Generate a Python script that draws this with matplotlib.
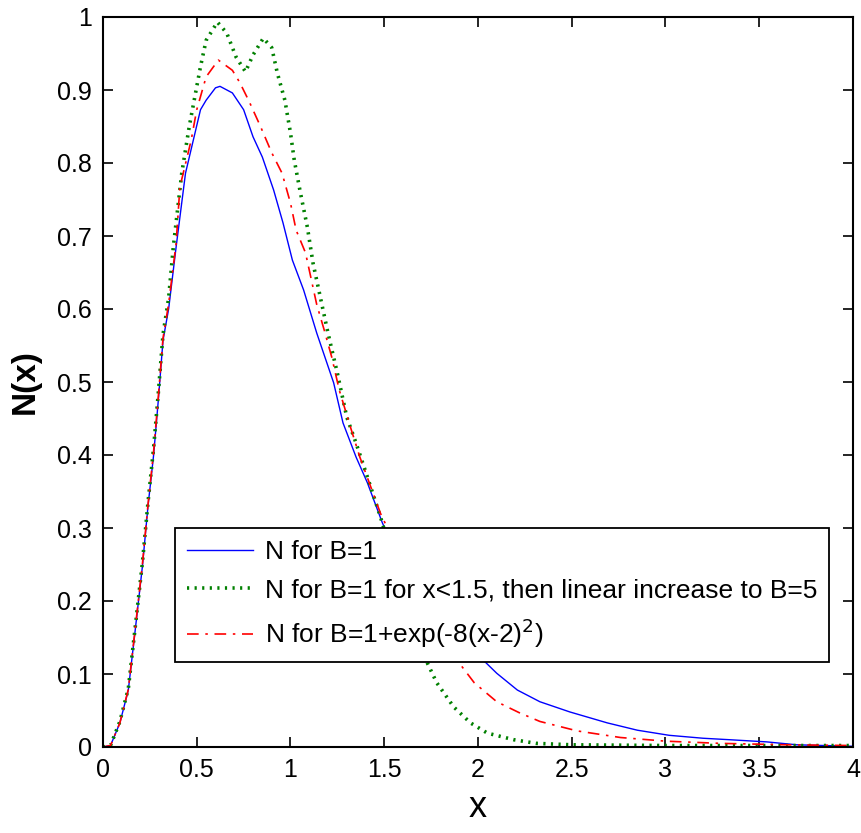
import matplotlib
matplotlib.use("Agg")
import matplotlib.pyplot as plt

plt.rcParams['font.family'] = ['Liberation Sans', 'DejaVu Sans']

# ---- data ----
x_blue = [0, 0.04, 0.09, 0.135, 0.17, 0.21, 0.24, 0.27, 0.295, 0.32, 0.35, 0.39, 0.44, 0.52, 0.55,
          0.60, 0.624, 0.69, 0.75, 0.80, 0.85, 0.91, 0.96, 1.01, 1.07, 1.14, 1.23, 1.28, 1.35, 1.41,
          1.49, 1.6, 1.7, 1.8, 1.9, 2.04, 2.10, 2.21, 2.33, 2.49, 2.69, 2.85, 3.02, 3.2, 3.34, 3.54,
          3.7, 4.0]
y_blue = [0, 0.002, 0.033, 0.078, 0.156, 0.247, 0.33, 0.40, 0.475, 0.557, 0.60, 0.685, 0.786, 0.873,
          0.886, 0.903, 0.905, 0.896, 0.873, 0.836, 0.808, 0.763, 0.718, 0.667, 0.626, 0.567, 0.499,
          0.444, 0.397, 0.362, 0.307, 0.245, 0.20, 0.165, 0.14, 0.116, 0.101, 0.078, 0.062, 0.048,
          0.033, 0.023, 0.016, 0.012, 0.010, 0.007, 0.003, 0.001]

x_green = [0, 0.04, 0.09, 0.135, 0.17, 0.21, 0.24, 0.27, 0.295, 0.32, 0.35, 0.375, 0.42, 0.46, 0.52,
           0.55, 0.61, 0.66, 0.71, 0.76, 0.80, 0.855, 0.90, 0.93, 0.97, 1.0, 1.02, 1.05, 1.09, 1.12,
           1.16, 1.20, 1.25, 1.30, 1.35, 1.41, 1.48, 1.55, 1.65, 1.73, 1.78, 1.87, 1.96, 2.05, 2.19,
           2.31, 2.5, 3.0, 3.5, 4.0]
y_green = [0, 0.002, 0.035, 0.08, 0.16, 0.252, 0.335, 0.41, 0.485, 0.565, 0.615, 0.685, 0.786, 0.85,
           0.932, 0.968, 0.993, 0.978, 0.945, 0.925, 0.948, 0.971, 0.958, 0.923, 0.886, 0.841, 0.804,
           0.763, 0.712, 0.663, 0.615, 0.567, 0.512, 0.452, 0.416, 0.37, 0.315, 0.255, 0.17, 0.115,
           0.088, 0.055, 0.033, 0.019, 0.010, 0.005, 0.003, 0.002, 0.002, 0.002]

x_red = [0, 0.04, 0.09, 0.135, 0.17, 0.21, 0.24, 0.27, 0.295, 0.32, 0.35, 0.39, 0.41, 0.47, 0.50,
         0.55, 0.615, 0.69, 0.73, 0.78, 0.84, 0.90, 0.955, 1.0, 1.03, 1.08, 1.14, 1.18, 1.22, 1.26,
         1.32, 1.37, 1.42, 1.48, 1.6, 1.7, 1.8, 1.90, 1.98, 2.10, 2.22, 2.33, 2.53, 2.76, 3.0, 3.29,
         3.65, 4.0]
y_red = [0, 0.002, 0.033, 0.079, 0.158, 0.25, 0.332, 0.405, 0.48, 0.56, 0.607, 0.69, 0.767, 0.831,
         0.873, 0.918, 0.941, 0.927, 0.91, 0.884, 0.85, 0.814, 0.786, 0.745, 0.708, 0.677, 0.606,
         0.571, 0.534, 0.489, 0.438, 0.397, 0.362, 0.32, 0.255, 0.205, 0.16, 0.115, 0.088, 0.062,
         0.047, 0.035, 0.022, 0.013, 0.008, 0.005, 0.003, 0.002]

labels = ["N for B=1",
          "N for B=1 for x<1.5, then linear increase to B=5",
          r"N for B=1+exp(-8(x-2)$^2$)"]
x_ticks = [0, 0.5, 1, 1.5, 2, 2.5, 3, 3.5, 4]
x_ticklabels = ["0", "0.5", "1", "1.5", "2", "2.5", "3", "3.5", "4"]
y_ticks = [0, 0.1, 0.2, 0.3, 0.4, 0.5, 0.6, 0.7, 0.8, 0.9, 1]
y_ticklabels = ["0", "0.1", "0.2", "0.3", "0.4", "0.5", "0.6", "0.7", "0.8", "0.9", "1"]

fig = plt.figure(figsize=(8.62, 8.33), dpi=100)
ax = fig.add_axes([103 / 862, 86 / 833, 750 / 862, 730 / 833])

ax.plot(x_blue, y_blue, color=(0, 0, 1), lw=1.0, ls='-', label=labels[0])
ax.plot(x_green, y_green, color=(0, 0.5, 0), lw=2.6, ls=(0, (0.6, 1.5)), label=labels[1])
ax.plot(x_red, y_red, color=(1, 0, 0), lw=1.2, ls=(0, (7, 4, 1.5, 4)), label=labels[2])

ax.set_xlim(0, 4)
ax.set_ylim(0, 1)
ax.set_xticks(x_ticks)
ax.set_xticklabels(x_ticklabels)
ax.set_yticks(y_ticks)
ax.set_yticklabels(y_ticklabels)
ax.tick_params(direction='in', top=True, right=True, length=7, width=1.2,
               labelsize=18, pad=8, colors='black')
for sp in ax.spines.values():
    sp.set_linewidth(1.5)

ax.set_xlabel("x", fontsize=26, labelpad=6)
ax.set_ylabel("N(x)", fontsize=24, fontweight='bold', labelpad=12)

leg = ax.legend(loc='lower left', bbox_to_anchor=(0.096, 0.116), borderaxespad=0,
                fontsize=19, frameon=True, fancybox=False, edgecolor='black',
                framealpha=1.0, handlelength=2.5, handletextpad=0.45, labelspacing=0.55,
                borderpad=0.45)
leg.get_frame().set_linewidth(1.3)

fig.savefig("out.png", dpi=100)
